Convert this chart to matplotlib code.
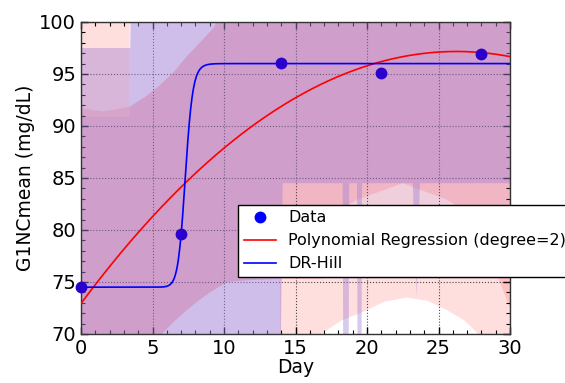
import numpy as np
import matplotlib
matplotlib.use("Agg")
import matplotlib.pyplot as plt
from matplotlib.lines import Line2D
from matplotlib.ticker import MultipleLocator

# measured data
day = [0, 7, 14, 21, 28]
g1nc = [74.5, 79.6, 96.1, 95.1, 96.9]

# DR-Hill parameters
hill_bottom, hill_top, hill_ec50, hill_n = 74.5, 96.0, 7.3, 28

# confidence band outlines (vertices)
# pink band A
ra_x = [0, 3.4, 3.4, 4.5, 5.5, 5.64, 6.5, 7.4, 8.3, 8.5, 9.25, 9.5, 10.2, 12.0, 13.9,
        14.0, 16.9, 18.2, 19.7, 21.2, 22.8, 24.2, 25.6, 26.8, 27.7, 27.8, 30]
ra_lo = [60, 60, 60, 60, 60, 70.0, 71.2, 72.3, 73.3, 73.5, 74.2, 74.4, 75.0, 75.2, 75.3,
         60, 70.1, 71.3, 72.1, 73.1, 73.5, 73.2, 72.3, 71.3, 70.1, 60, 60]
ra_hi = [110, 110, 91.85, 92.8, 93.9, 94.1, 95.2, 96.7, 98.0, 98.3, 99.4, 100, 110, 110, 110,
         110, 110, 110, 110, 110, 110, 110, 110, 110, 110, 110, 110]
# pink band B
rb_x = [0, 1.54, 3.4, 4.5, 5.5, 5.64, 6.5, 7.4, 8.3, 8.5, 9.25, 9.5, 10.2, 12.0, 13.9,
        14.0, 16.9, 16.9, 19.3, 22.5, 25.6, 27.7, 29.2, 30]
rb_lo = [60, 60, 60, 60, 60, 70.0, 71.2, 72.3, 73.3, 73.5, 74.2, 74.4, 75.0, 75.2, 75.3,
         75.3, 75.3, 81.0, 82.9, 84.5, 82.9, 81.0, 75.3, 72.5]
rb_hi = [91.7, 91.4, 91.85, 92.8, 93.9, 94.1, 95.2, 96.7, 98.0, 98.3, 99.4, 100, 110, 110, 110,
         110, 110, 110, 110, 110, 110, 110, 110, 110]
# blue band 1
b1_x = [0, 3.45, 3.6, 13.9, 14.1, 18.3, 18.35, 18.7, 18.75, 19.3, 19.35, 19.6, 19.65,
        23.2, 23.45, 23.7, 30]
b1_lo = [60, 60, 60, 60, 84.5, 84.5, 60, 60, 84.5, 84.5, 60, 60, 84.5,
         84.5, 73.6, 84.5, 84.5]
b1_hi = [97.5, 97.5, 110, 110, 110, 110, 110, 110, 110, 110, 110, 110, 110,
         110, 110, 110, 110]
# blue band 2
b2_x = [0, 3.4, 3.45, 13.9, 14.0, 30]
b2_lo = [60, 60, 60, 60, 75.3, 75.3]
b2_hi = [90.9, 90.9, 110, 110, 110, 110]

xs = np.linspace(0, 30, 600)
poly = np.polyval(np.polyfit(day, g1nc, 2), xs)
xh = np.where(xs == 0, 1e-9, xs)
hill = hill_bottom + (hill_top - hill_bottom) / (1 + (hill_ec50 / xh) ** hill_n)

fig = plt.figure(figsize=(5.65, 3.83), dpi=100)
ax = fig.add_axes([0.1434, 0.128, 0.7593, 0.8146])

pink = (1.0, 0.0, 0.0)
blue = (159 / 255, 122 / 255, 214 / 255)
ax.fill_between(ra_x, ra_lo, ra_hi, color=pink, alpha=0.13, lw=0, zorder=1)
ax.fill_between(rb_x, rb_lo, rb_hi, color=pink, alpha=0.13, lw=0, zorder=1)
ax.fill_between(b2_x, b2_lo, b2_hi, color=blue, alpha=0.15, lw=0, zorder=2)
ax.fill_between(b1_x, b1_lo, b1_hi, color=blue, alpha=0.4, lw=0, zorder=2)

ax.plot(day, g1nc, 'o', color='#2c00cc', ms=7.5, mec='#2c00cc', zorder=5, clip_on=False)
l_poly, = ax.plot(xs, poly, color='red', lw=1.2, zorder=4)
l_hill, = ax.plot(xs, hill, color='blue', lw=1.2, zorder=4)

ax.set_xlim(0, 30)
ax.set_ylim(70, 100)
ax.xaxis.set_major_locator(MultipleLocator(5))
ax.xaxis.set_minor_locator(MultipleLocator(1))
ax.yaxis.set_major_locator(MultipleLocator(5))
ax.yaxis.set_minor_locator(MultipleLocator(1))
ax.tick_params(which='both', direction='in', top=True, right=True, labelsize=14)
ax.tick_params(which='major', length=5, width=1)
ax.tick_params(which='minor', length=3, width=0.8)
ax.grid(True, which='major', color='black', linestyle=':', lw=0.8, alpha=0.7)
for s in ax.spines.values():
    s.set_color('#333333')
    s.set_linewidth(1.0)
ax.set_xlabel("Day", fontsize=13.5, labelpad=0)
ax.set_ylabel("G1NCmean (mg/dL)", fontsize=13.5, labelpad=3)

handles = [Line2D([], [], marker='o', color='blue', ls='', ms=7.5), l_poly, l_hill]
labels = ['Data', 'Polynomial Regression (degree=2)', 'DR-Hill']
leg = ax.legend(handles, labels, loc='lower left', bbox_to_anchor=(0.366, 0.183),
                numpoints=1, fontsize=11.5, fancybox=False, framealpha=1,
                edgecolor='black', labelspacing=0.5, handlelength=2.0,
                handletextpad=0.8, borderaxespad=0, borderpad=0.35)
leg.get_frame().set_linewidth(1.0)
leg.set_zorder(10)

fig.savefig("out.png", dpi=100)
